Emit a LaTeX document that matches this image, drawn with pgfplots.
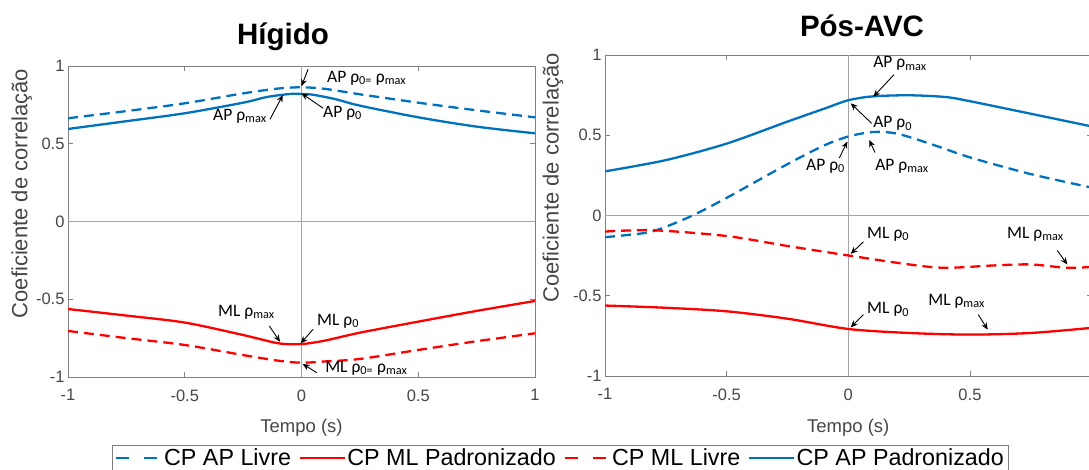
\documentclass[border=0pt]{standalone}
\usepackage{pgfplots}
\pgfplotsset{compat=1.18}
\usepackage{fontspec}
\setmainfont{Liberation Sans}
\newfontfamily\annotfont{Carlito}
\usetikzlibrary{arrows.meta}
\definecolor{mblue}{RGB}{0,114,189}
\definecolor{mred}{RGB}{255,0,0}
\definecolor{axgray}{RGB}{128,128,128}
\definecolor{zgray}{RGB}{165,165,165}
\definecolor{tickgray}{RGB}{70,70,70}

\tikzset{
  annot/.style={font=\annotfont\fontsize{17.5}{20}\selectfont, inner sep=0pt, anchor=west},
  arr/.style={-{Stealth[length=7pt,width=6pt]}, line width=0.9pt, black},
}
\pgfplotsset{
  base/.style={
    scale only axis,
    xmin=-1, xmax=1, ymin=-1, ymax=1,
    xtick={-1,-0.5,0,0.5,1}, ytick={-1,-0.5,0,0.5,1},
    tick align=inside, major tick length=5pt,
    axis line style={axgray, line width=0.9pt},
    tick style={axgray, line width=0.9pt},
    every tick label/.append style={font=\fontsize{16.5}{18}\selectfont, text=tickgray},
    /pgf/number format/assume math mode=true,
    xticklabel style={yshift=-9pt},
    clip mode=individual,
    every axis x label/.style={at={(axis description cs:0.5,-0.177)}, anchor=base, font=\fontsize{18.5}{21}\selectfont, text=tickgray},
  },
  livre/.style={line width=2.3pt, dash pattern=on 10pt off 6pt},
  padr/.style={line width=2.3pt},
}

\begin{document}
\begin{tikzpicture}
\useasboundingbox (0,0) rectangle (1089pt,470pt);

\node[font=\bfseries\fontsize{29.5}{33}\selectfont, anchor=base] at (283pt,425pt) {Hígido};
\node[font=\bfseries\fontsize{29.5}{33}\selectfont, anchor=base] at (862pt,433.5pt) {Pós-AVC};

% ---------------- Hígido ----------------
\begin{axis}[base,
  at={(68pt,93pt)}, anchor=south west,
  width=467pt, height=311pt,
  ylabel={Coeficiente de correlação},
  every axis y label/.style={at={(axis description cs:-0.099,0.59)}, rotate=90, anchor=center, font=\fontsize{22}{26}\selectfont, text=tickgray},
  xlabel={Tempo (s)},
  legend columns=4,
  legend cell align=left,
  legend image code/.code={\draw[#1] (0pt,0pt) -- (45pt,0pt);},
  legend style={at={(axis description cs:0.094,-0.219)}, anchor=north west,
    draw=axgray, line width=0.9pt, font=\fontsize{23.3}{26}\selectfont,
    nodes={inner sep=1.5pt},
    /tikz/every even column/.append style={column sep=6pt},
    inner xsep=3pt, inner ysep=2pt},
]
\draw[zgray, line width=1pt] (axis cs:0,-1) -- (axis cs:0,1);
\draw[zgray, line width=1pt] (axis cs:-1,0) -- (axis cs:1,0);

\addplot[mblue, livre, smooth, legend image post style={dash pattern=on 13pt off 15pt}] coordinates {
(-1,0.664) (-0.75,0.71) (-0.5,0.76) (-0.25,0.824) (-0.1,0.855) (0,0.863)
(0.1,0.853) (0.25,0.818) (0.5,0.764) (0.75,0.715) (1,0.67)};
\addlegendentry{CP AP Livre}
\addplot[mred, padr, smooth] coordinates {
(-1,-0.563) (-0.75,-0.605) (-0.5,-0.65) (-0.25,-0.73) (-0.1,-0.783) (0,-0.788)
(0.1,-0.766) (0.25,-0.715) (0.5,-0.644) (0.75,-0.575) (1,-0.511)};
\addlegendentry{CP ML Padronizado}
\addplot[mred, livre, smooth, legend image post style={dash pattern=on 13pt off 15pt}] coordinates {
(-1,-0.704) (-0.75,-0.75) (-0.5,-0.794) (-0.25,-0.859) (-0.1,-0.895) (0,-0.908)
(0.1,-0.9) (0.25,-0.884) (0.5,-0.826) (0.75,-0.77) (1,-0.719)};
\addlegendentry{CP ML Livre}
\addplot[mblue, padr, smooth] coordinates {
(-1,0.595) (-0.75,0.645) (-0.5,0.696) (-0.25,0.764) (-0.15,0.80) (-0.05,0.82)
(0,0.82) (0.05,0.815) (0.15,0.785) (0.25,0.745) (0.5,0.67) (0.75,0.61) (1,0.567)};
\addlegendentry{CP AP Padronizado}

\node[annot] at (axis cs:0.109,0.923) {AP ρ\textsubscript{0=} ρ\textsubscript{max}};
\draw[arr] (axis cs:0.028,0.979) -- (axis cs:0.0,0.87);
\node[annot] at (axis cs:-0.379,0.678) {AP ρ\textsubscript{max}};
\draw[arr] (axis cs:-0.135,0.657) -- (axis cs:-0.08,0.813);
\node[annot] at (axis cs:0.092,0.698) {AP ρ\textsubscript{0}};
\draw[arr] (axis cs:0.093,0.728) -- (axis cs:0.0,0.824);
\node[annot] at (axis cs:-0.358,-0.582) {ML ρ\textsubscript{max}};
\draw[arr] (axis cs:-0.138,-0.672) -- (axis cs:-0.092,-0.773);
\node[annot] at (axis cs:0.066,-0.64) {ML ρ\textsubscript{0}};
\draw[arr] (axis cs:0.05,-0.693) -- (axis cs:-0.003,-0.783);
\node[annot] at (axis cs:0.101,-0.942) {ML ρ\textsubscript{0=} ρ\textsubscript{max}};
\draw[arr] (axis cs:0.065,-0.972) -- (axis cs:0.005,-0.916);
\end{axis}

% ---------------- Pós-AVC ----------------
\begin{axis}[base,
  at={(605pt,94pt)}, anchor=south west,
  width=486.6pt, height=321pt,
  xticklabels={-1,-0.5,0,0.5,{}},
  ylabel={Coeficiente de correlação},
  every axis y label/.style={at={(axis description cs:-0.107,0.617)}, rotate=90, anchor=center, font=\fontsize{22}{26}\selectfont, text=tickgray},
  xlabel={Tempo (s)},
]
\draw[zgray, line width=1pt] (axis cs:0,-1) -- (axis cs:0,1);
\draw[zgray, line width=1pt] (axis cs:-1,0) -- (axis cs:1,0);

\addplot[mblue, livre, smooth] coordinates {
(-1,-0.135) (-0.9,-0.12) (-0.8,-0.097) (-0.65,-0.007) (-0.5,0.11) (-0.25,0.32)
(-0.1,0.436) (0,0.492) (0.1,0.52) (0.2,0.51) (0.35,0.44) (0.5,0.362) (0.75,0.258) (1,0.174)};
\addplot[mred, padr, smooth] coordinates {
(-1,-0.561) (-0.75,-0.575) (-0.5,-0.597) (-0.25,-0.643) (0,-0.707) (0.25,-0.732)
(0.5,-0.742) (0.75,-0.732) (1,-0.70)};
\addplot[mred, livre, smooth] coordinates {
(-1,-0.10) (-0.8,-0.092) (-0.5,-0.128) (-0.25,-0.19) (0,-0.249) (0.25,-0.305)
(0.4,-0.326) (0.6,-0.311) (0.75,-0.305) (0.9,-0.326) (1,-0.32)};
\addplot[mblue, padr, smooth] coordinates {
(-1,0.275) (-0.75,0.345) (-0.5,0.448) (-0.25,0.585) (-0.1,0.665) (0,0.718)
(0.1,0.742) (0.25,0.749) (0.4,0.738) (0.5,0.712) (0.75,0.634) (1,0.555)};

\node[annot] at (axis cs:0.102,0.947) {AP ρ\textsubscript{max}};
\draw[arr] (axis cs:0.188,0.878) -- (axis cs:0.103,0.74);
\node[annot] at (axis cs:0.102,0.572) {AP ρ\textsubscript{0}};
\draw[arr] (axis cs:0.096,0.574) -- (axis cs:0.01,0.699);
\node[annot] at (axis cs:-0.174,0.309) {AP ρ\textsubscript{0}};
\draw[arr] (axis cs:-0.037,0.358) -- (axis cs:-0.004,0.461);
\node[annot] at (axis cs:0.11,0.309) {AP ρ\textsubscript{max}};
\draw[arr] (axis cs:0.11,0.392) -- (axis cs:0.086,0.47);
\node[annot] at (axis cs:0.077,-0.116) {ML ρ\textsubscript{0}};
\draw[arr] (axis cs:0.062,-0.164) -- (axis cs:0.01,-0.239);
\node[annot] at (axis cs:0.652,-0.116) {ML ρ\textsubscript{max}};
\draw[arr] (axis cs:0.859,-0.218) -- (axis cs:0.9,-0.305);
\node[annot] at (axis cs:0.077,-0.584) {ML ρ\textsubscript{0}};
\draw[arr] (axis cs:0.062,-0.617) -- (axis cs:0.01,-0.697);
\node[annot] at (axis cs:0.328,-0.534) {ML ρ\textsubscript{max}};
\draw[arr] (axis cs:0.534,-0.617) -- (axis cs:0.573,-0.711);
\end{axis}
\end{tikzpicture}
\end{document}
